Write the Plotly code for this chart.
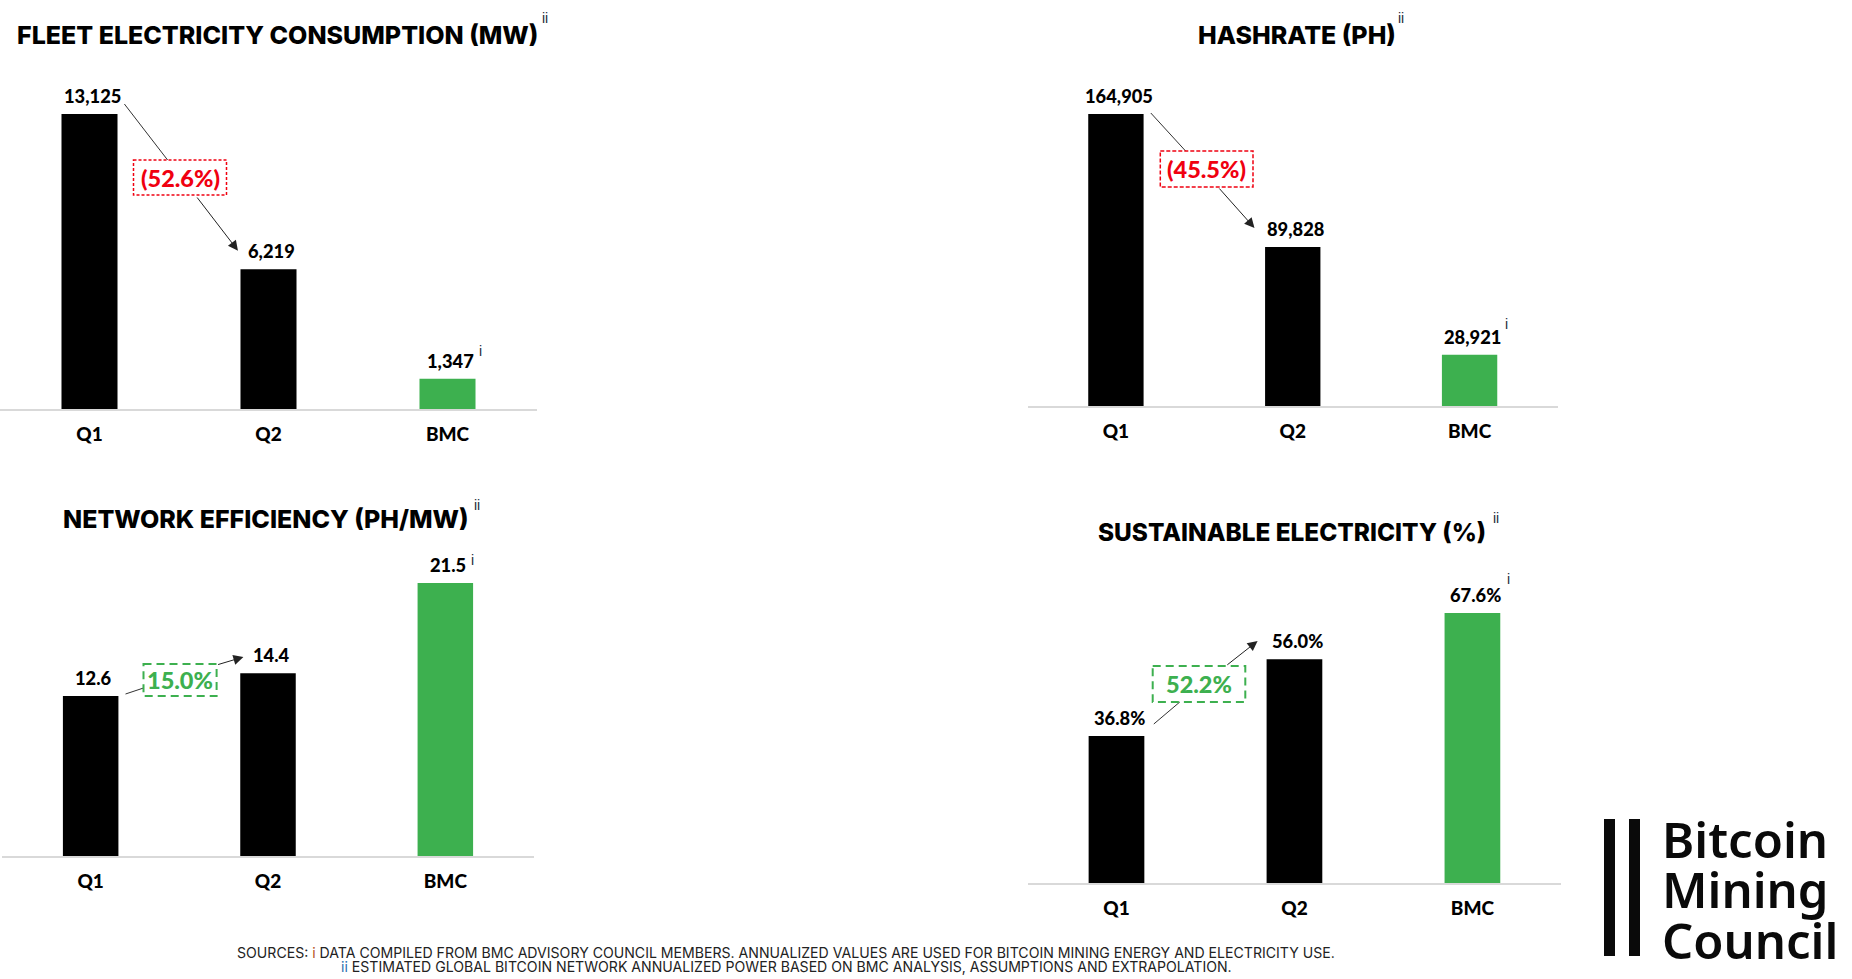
#!/usr/bin/env python3
"""Bitcoin Mining Council fleet comparison, four small bar charts"""

import plotly.graph_objects as go

W, H = 1852, 979

categories = ["Q1", "Q2", "BMC"]
bar_colors = ["#000000", "#000000", "#3DB04F"]

fleet_mw = [13125, 6219, 1347]
hashrate_ph = [164905, 89828, 28921]
efficiency = [12.6, 14.4, 21.5]
sustainable = [36.8, 56.0, 67.6]

fleet_labels = ["13,125", "6,219", "1,347"]
hashrate_labels = ["164,905", "89,828", "28,921"]
efficiency_labels = ["12.6", "14.4", "21.5"]
sustainable_labels = ["36.8%", "56.0%", "67.6%"]

TITLE_FONT = dict(family="Inter", size=25, color="#000000", weight=800)
VALUE_FONT = dict(family="Lato", size=18.3, color="#000000", weight=900)
TICK_FONT = dict(family="Lato", size=19, color="#000000", weight=900)
PCT_FONT = dict(family="Lato", size=23.5, weight=900)
SUP_FONT = dict(family="Liberation Sans", size=14, color="#1b2a3a")
NOTE_FONT = dict(family="Inter", size=14.1, color="#222222")
LOGO_FONT = dict(family="Noto Sans", size=49, color="#0a0a0a", weight=600)

RED = "#F00010"
GREEN = "#3DB04F"


def xp(x):
    return x / W


def yp(y):
    return 1 - y / H


panels = [
    dict(values=fleet_mw, labels=fleet_labels, rect=(0, 537, 114, 409),
         title="FLEET ELECTRICITY CONSUMPTION (MW)", title_at=(277, 35), title_size=25,
         title_sup=(545, 18), bmc_sup=(480, 351),
         pct="(52.6%)", color=RED, box=(133.5, 226.5, 160, 195), dash="3px,2px", box_w=1.5,
         tail=((124.4, 104), (167.6, 160)), head=((196, 196), (238, 250.7))),
    dict(values=hashrate_ph, labels=hashrate_labels, rect=(1027.5, 1558, 114, 406),
         title="HASHRATE (PH)", title_at=(1296.5, 35), title_size=25,
         title_sup=(1400.6, 18), bmc_sup=(1506, 324),
         pct="(45.5%)", color=RED, box=(1160.3, 1253, 151, 187), dash="4px,2px", box_w=1.5,
         tail=((1150.8, 113), (1185.6, 151)), head=((1218, 187), (1254.5, 228))),
    dict(values=efficiency, labels=efficiency_labels, rect=(2, 534, 583, 856),
         title="NETWORK EFFICIENCY (PH/MW)", title_at=(266, 519), title_size=25,
         title_sup=(477, 505), bmc_sup=(472, 560),
         pct="15.0%", color=GREEN, box=(143.5, 216.6, 664, 696), dash="8px,5px", box_w=2,
         tail=((125.5, 694), (143.5, 688)), head=((216.6, 665), (243.4, 657))),
    dict(values=sustainable, labels=sustainable_labels, rect=(1027.5, 1561.4, 613, 883),
         title="SUSTAINABLE ELECTRICITY (%)", title_at=(1292, 532), title_size=24.4,
         title_sup=(1496, 518), bmc_sup=(1508, 579),
         pct="52.2%", color=GREEN, box=(1152.7, 1245.3, 666, 702), dash="8px,5px", box_w=2,
         tail=((1153.8, 724), (1179.8, 702)), head=((1225.8, 666), (1257.6, 641))),
]

fig = go.Figure()
annotations = []
shapes = []


def note(x, y, text, font, **kw):
    annotations.append(dict(x=xp(x), y=yp(y), xref="paper", yref="paper", text=text,
                            font=font, showarrow=False, xanchor=kw.pop("xanchor", "center"),
                            yanchor="middle", **kw))


for i, p in enumerate(panels, start=1):
    left, right, top, bottom = p["rect"]
    suffix = "" if i == 1 else str(i)

    fig.add_trace(go.Bar(
        x=categories, y=p["values"], marker=dict(color=bar_colors, line_width=0),
        xaxis=f"x{suffix}", yaxis=f"y{suffix}", showlegend=False,
    ))

    fig.update_layout({
        f"xaxis{suffix}": dict(
            domain=[xp(left), xp(right)], anchor=f"y{suffix}", type="category",
            range=[-0.5, 2.5], showline=True, linecolor="#D9D9D9", linewidth=2,
            showgrid=False, ticks="", tickfont=TICK_FONT, ticklabelstandoff=7,
        ),
        f"yaxis{suffix}": dict(
            domain=[yp(bottom), yp(top)], anchor=f"x{suffix}",
            range=[0, max(p["values"])], visible=False,
        ),
    })

    # value labels sit above the bars
    for cat, val, lab in zip(categories, p["values"], p["labels"]):
        annotations.append(dict(x=cat, y=val, xref=f"x{suffix}", yref=f"y{suffix}", text=lab,
                                font=VALUE_FONT, showarrow=False, yanchor="middle",
                                xshift=3, yshift=18))

    note(*p["title_at"], p["title"], dict(TITLE_FONT, size=p["title_size"]))
    note(*p["title_sup"], "ii", SUP_FONT)
    note(*p["bmc_sup"], "i", SUP_FONT)

    # change callout: tail line, arrow, dashed box
    (x0, y0), (x1, y1) = p["tail"]
    shapes.append(dict(type="line", xref="paper", yref="paper", x0=xp(x0), y0=yp(y0),
                       x1=xp(x1), y1=yp(y1), line=dict(color="#333333", width=1)))
    (x0, y0), (x1, y1) = p["head"]
    annotations.append(dict(x=xp(x1), y=yp(y1), xref="paper", yref="paper", text="",
                            showarrow=True, ax=x0 - x1, ay=y0 - y1, arrowhead=2,
                            arrowsize=2, arrowwidth=1, arrowcolor="#222222", standoff=0))
    bx0, bx1, by0, by1 = p["box"]
    shapes.append(dict(type="rect", xref="paper", yref="paper", x0=xp(bx0), x1=xp(bx1),
                       y0=yp(by0), y1=yp(by1),
                       line=dict(color=p["color"], width=p["box_w"], dash=p["dash"])))
    note((bx0 + bx1) / 2, (by0 + by1) / 2, p["pct"], dict(PCT_FONT, color=p["color"]))

# footnotes
note(786, 952, "SOURCES: <span style='color:#b5541c'>i</span> DATA COMPILED FROM BMC ADVISORY COUNCIL "
     "MEMBERS. ANNUALIZED VALUES ARE USED FOR BITCOIN MINING ENERGY AND ELECTRICITY USE.", NOTE_FONT)
note(786, 966, "<span style='color:#2a6fb0'>ii</span> ESTIMATED GLOBAL BITCOIN NETWORK ANNUALIZED "
     "POWER BASED ON BMC ANALYSIS, ASSUMPTIONS AND EXTRAPOLATION.", NOTE_FONT)

# logo
for x0, x1 in [(1604, 1615), (1629, 1640)]:
    shapes.append(dict(type="rect", xref="paper", yref="paper", x0=xp(x0), x1=xp(x1),
                       y0=yp(819), y1=yp(956), fillcolor="#0a0a0a", line_width=0))
note(1660, 839, "Bitcoin", LOGO_FONT, xanchor="left")
note(1660, 889, "Mining", LOGO_FONT, xanchor="left")
note(1660, 940, "Council", LOGO_FONT, xanchor="left")

fig.update_layout(
    width=W, height=H, margin=dict(l=0, r=0, t=0, b=0),
    paper_bgcolor="white", plot_bgcolor="white", bargap=0.687,
    annotations=annotations, shapes=shapes,
)

fig.write_html("out.html", config={"displayModeBar": False},
               post_script="document.body.style.margin='0';")
